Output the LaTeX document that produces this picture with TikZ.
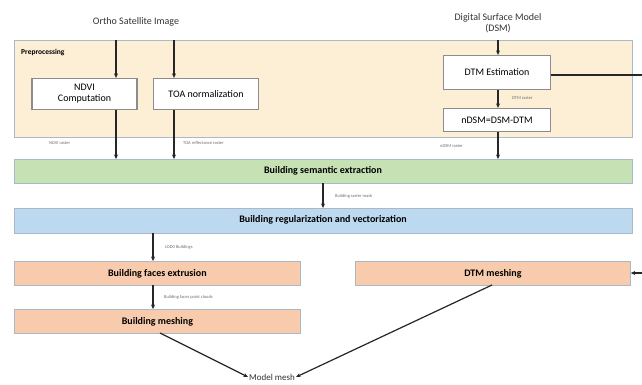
\documentclass[tikz,border=0pt]{standalone}
\usepackage{fontspec}
\setmainfont{Carlito}
\usetikzlibrary{arrows.meta}
\definecolor{prefill}{HTML}{FCEFD6}
\definecolor{preborder}{HTML}{A9B9C8}
\definecolor{greenfill}{HTML}{C6E2B5}
\definecolor{bluefill}{HTML}{BDD9EF}
\definecolor{orangefill}{HTML}{F8CBAD}
\definecolor{boxborder}{HTML}{8C8C8C}
\definecolor{labelgrey}{HTML}{6E6E6E}
\tikzset{
  x=1pt,y=-1pt,
  whitebox/.style={draw=boxborder,line width=1.2pt,fill=white,font=\fontsize{10}{11}\selectfont,align=center,inner sep=0pt},
  band/.style={draw=preborder,line width=0.8pt,inner sep=0pt,font=\bfseries\fontsize{10}{11}\selectfont},
  conn/.style={line width=1.2pt,draw=black!85,-{Stealth[length=4.5pt,width=4pt]}},
  plain/.style={line width=1.2pt,draw=black!85},
  tiny/.style={font=\fontsize{4.5}{5}\selectfont,text=labelgrey,inner sep=0pt},
  title/.style={font=\fontsize{10}{11}\selectfont,align=center,inner sep=0pt,text=black!80},
}
\begin{document}
\begin{tikzpicture}
\useasboundingbox (0,0) rectangle (642,384);
\fill[white] (0,0) rectangle (642,384);
% preprocessing
\node[draw=preborder,line width=0.8pt,fill=prefill,minimum width=618pt,minimum height=97pt,inner sep=0pt,anchor=north west] (pre) at (14,40) {};
\node[anchor=west,inner sep=0pt,font=\bfseries\fontsize{7.5}{8}\selectfont] (prelbl) at (21,52) {Preprocessing};
\node[title] (ortho) at (136,22) {Ortho Satellite Image};
\node[title] (dsm) at (498,23) {Digital Surface Model\\(DSM)};
\node[whitebox,minimum width=105pt,minimum height=31pt] (ndvi) at (84.5,94) {NDVI\\Computation};
\node[whitebox,minimum width=105pt,minimum height=31pt] (toa) at (206,94) {TOA normalization};
\node[whitebox,minimum width=107pt,minimum height=34pt] (dtme) at (497,72.5) {DTM Estimation};
\node[whitebox,minimum width=107pt,minimum height=23pt] (ndsm) at (497,120) {nDSM=DSM-DTM};
\coordinate (o1) at (116,40);
\coordinate (o2) at (174,40);
\coordinate (d1) at (498,40);
% bands
\node[band,fill=greenfill,minimum width=618pt,minimum height=24pt,anchor=north west] (sem) at (14,159) {};
\node[font=\bfseries\fontsize{10}{11}\selectfont,inner sep=0pt] (semt) at (323,171) {Building semantic extraction};
\node[band,fill=bluefill,minimum width=618pt,minimum height=25pt,anchor=north west] (reg) at (14,208) {};
\node[font=\bfseries\fontsize{10}{11}\selectfont,inner sep=0pt] (regt) at (323,220) {Building regularization and vectorization};
\node[band,fill=orangefill,minimum width=286pt,minimum height=24pt,anchor=north west] (ext) at (14,261) {Building faces extrusion};
\node[band,fill=orangefill,minimum width=286pt,minimum height=24pt,anchor=north west] (mesh) at (14,309) {Building meshing};
\node[band,fill=orangefill,minimum width=275pt,minimum height=24pt,anchor=north west] (dtmm) at (355,261) {DTM meshing};
\node[font=\fontsize{9}{10}\selectfont,inner sep=1pt,text=black!80] (model) at (272,377) {Model mesh};
% connectors
\draw[conn] (o1) -- (o1 |- ndvi.north);
\draw[conn] (o2) -- (o2 |- toa.north);
\draw[conn] (d1) -- (d1 |- dtme.north);
\draw[conn] (o1 |- ndvi.south) -- (o1 |- sem.north);
\draw[conn] (o2 |- toa.south) -- (o2 |- sem.north);
\draw[conn] (d1 |- dtme.south) -- (d1 |- ndsm.north);
\draw[conn] (d1 |- ndsm.south) -- (d1 |- sem.north);
\coordinate (c1) at (323,183);
\draw[conn] (c1) -- (c1 |- reg.north);
\coordinate (c2) at (153,233);
\draw[conn] (c2) -- (c2 |- ext.north);
\coordinate (c3) at (153,285);
\draw[conn] (c3) -- (c3 |- mesh.north);
\coordinate (r1) at (645,75);
\coordinate (r2) at (645,273);
\draw[conn] (dtme.east |- r1) -- (r1) -- (r2) -- (dtmm.east |- r2);
\coordinate (m1) at (160,333);
\coordinate (m2) at (492,285);
\draw[conn] (m1) -- (model.west);
\draw[conn] (m2) -- (model.east);
% small labels
\node[tiny,anchor=west] (l1) at (49,143) {NDVI raster};
\node[tiny,anchor=west] (l2) at (183,143) {TOA reflectance raster};
\node[tiny,anchor=west] (l3) at (512,98) {DTM raster};
\node[tiny,anchor=west] (l4) at (440,146) {nDSM raster};
\node[tiny,anchor=west] (l5) at (335,196) {Building raster mask};
\node[tiny,anchor=west] (l6) at (165,247) {LOD0 Buildings};
\node[tiny,anchor=west] (l7) at (164,297) {Building faces point clouds};
\end{tikzpicture}
\end{document}
